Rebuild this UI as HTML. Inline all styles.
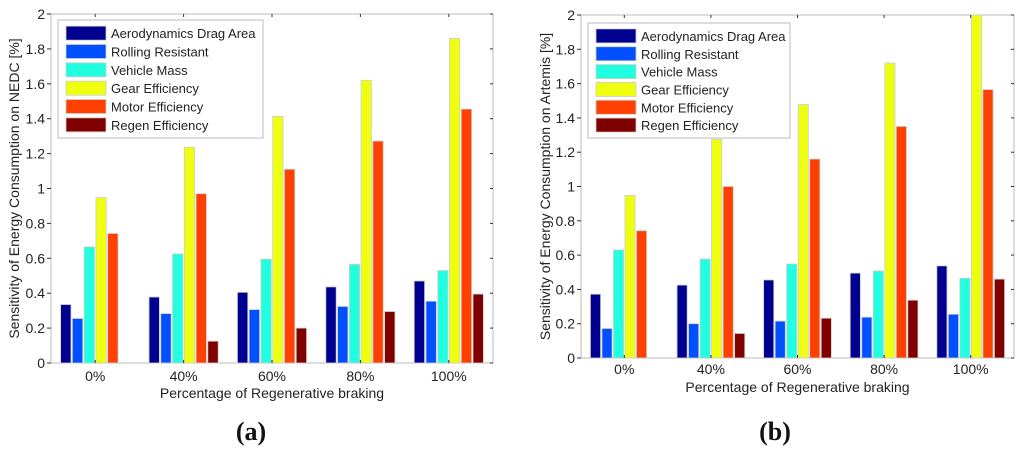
<!DOCTYPE html>
<html><head><meta charset="utf-8"><style>
body{margin:0;background:#fff}
svg text{font-family:"Liberation Sans",sans-serif}
svg text.serif{font-family:"Liberation Serif",serif}
</style></head><body>
<svg id="svg" width="1024" height="451" viewBox="0 0 1024 451" xmlns="http://www.w3.org/2000/svg"></svg>
<script>
const categories=["0%","40%","60%","80%","100%"];
const seriesNames=["Aerodynamics Drag Area","Rolling Resistant","Vehicle Mass","Gear Efficiency","Motor Efficiency","Regen Efficiency"];
const colors=["#000090","#0050ff","#20ffdf","#efff10","#ff4000","#800000"];
const yTicks=[0,0.2,0.4,0.6,0.8,1,1.2,1.4,1.6,1.8,2];
const yTickLabels=["0","0.2","0.4","0.6","0.8","1","1.2","1.4","1.6","1.8","2"];
const aAero=[0.335,0.378,0.405,0.436,0.47];
const aRoll=[0.255,0.283,0.306,0.324,0.354];
const aMass=[0.665,0.625,0.595,0.565,0.53];
const aGear=[0.948,1.237,1.413,1.62,1.86];
const aMotor=[0.742,0.97,1.11,1.272,1.455];
const aRegen=[0,0.125,0.2,0.295,0.395];
const bAero=[0.372,0.425,0.455,0.495,0.537];
const bRoll=[0.172,0.2,0.215,0.238,0.255];
const bMass=[0.63,0.577,0.548,0.507,0.465];
const bGear=[0.948,1.275,1.478,1.72,2.0];
const bMotor=[0.742,1.0,1.16,1.35,1.565];
const bRegen=[0,0.143,0.232,0.337,0.46];

const NS="http://www.w3.org/2000/svg";
const svg=document.getElementById('svg');
function mk(tag,attrs,parent,text){const e=document.createElementNS(NS,tag);for(const k in attrs)e.setAttribute(k,attrs[k]);if(text!==undefined)e.textContent=text;(parent||svg).appendChild(e);return e;}

function panel(p){
  const g=mk('g',{});
  
  
  const L=p.x0,R=p.x1,T=p.y0,B=p.y1;
  const ys=v=>B-(v/2)*(B-T);
  const sp=(R-L)/categories.length;
  const xc=i=>L+sp*(i+0.5);
  const step=sp*0.133, bw=step*0.88;
  const box=mk('rect',{x:L,y:T,width:R-L,height:B-T,fill:'none',stroke:'#bbb','stroke-width':1},g);
  
  
  yTicks.forEach((v,i)=>{
    const y=ys(v);
    mk('line',{x1:L-4,x2:L,y1:y,y2:y,stroke:'#333'},g);
    mk('line',{x1:R-3,x2:R,y1:y,y2:y,stroke:'#333'},g);
    const t=mk('text',{x:L-6,y:y+5,'text-anchor':'end','font-size':14,fill:'#222'},g,yTickLabels[i]);
    
    
  });
  p.data.forEach((arr,s)=>{
    arr.forEach((v,i)=>{
      if(v<=0)return;
      const x=xc(i)+(s-2.5)*step-bw/2;
      const r=mk('rect',{x:x,y:ys(v),width:bw,height:B-ys(v),fill:colors[s],stroke:'#ccc','stroke-width':0.8},g);
      
      
    });
  });
  categories.forEach((c,i)=>{
    mk('line',{x1:xc(i),x2:xc(i),y1:T,y2:T+3,stroke:'#333'},g);
    mk('line',{x1:xc(i),x2:xc(i),y1:B,y2:B-3,stroke:'#333'},g);
    const t=mk('text',{x:xc(i),y:p.xlabY,'text-anchor':'middle','font-size':14,fill:'#222'},g,c);
    
    
  });
  const xt=mk('text',{x:(L+R)/2,y:p.xtitleY,'text-anchor':'middle','font-size':14,fill:'#222'},g,'Percentage of Regenerative braking');
  
  
  const yt=mk('text',{x:0,y:0,'text-anchor':'middle','font-size':14,fill:'#222',transform:`translate(${p.ytitleX},${(T+B)/2}) rotate(-90)`},g,p.ytitle);
  
  
  const lg=mk('g',{},g);
  
  
  mk('rect',{x:p.lx,y:p.ly,width:p.lw,height:p.lh,fill:'#fff',stroke:'#bbb'},lg);
  const rh=(p.lh-8)/6;
  seriesNames.forEach((n,s)=>{
    const cy=p.ly+4+rh*(s+0.5);
    const e=mk('g',{},lg);
    
    
    mk('rect',{x:p.lx+8,y:cy-7,width:40,height:14,fill:colors[s],stroke:'#ccc','stroke-width':0.8},e);
    mk('text',{x:p.lx+53,y:cy+5,'font-size':13,fill:'#222'},e,n);
  });
  const lab=mk('text',{x:p.labX,y:440,'text-anchor':'middle','font-size':26,'font-weight':'bold',class:'serif',fill:'#111'},g,p.label);
  
  
}
panel({name:'chart-a',x0:51,x1:493,y0:14,y1:363,xlabY:381,xtitleY:398,ytitleX:19,ytitle:'Sensitivity of Energy Consumption on NEDC [%]',
  data:[aAero,aRoll,aMass,aGear,aMotor,aRegen],lx:58,ly:20,lw:205,lh:118,labX:251,label:'(a)'});
panel({name:'chart-b',x0:581,x1:1014,y0:15,y1:358,xlabY:374,xtitleY:392,ytitleX:550,ytitle:'Sensitivity of Energy Consumption on Artemis [%]',
  data:[bAero,bRoll,bMass,bGear,bMotor,bRegen],lx:588,ly:23,lw:202,lh:115,labX:775,label:'(b)'});
</script>
</body></html>
